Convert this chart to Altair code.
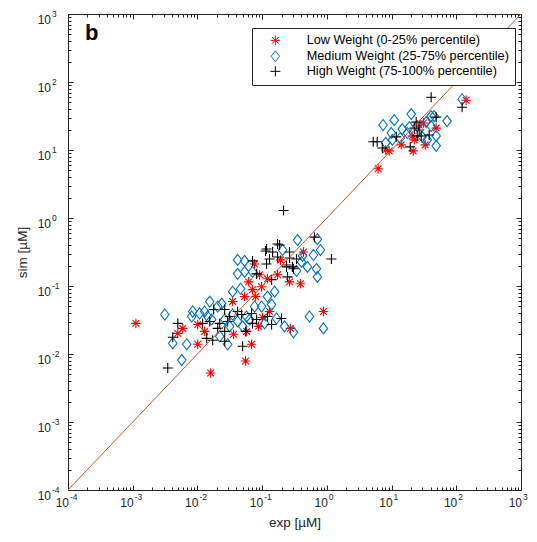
import altair as alt
import pandas as pd

# ---------------- data ----------------
series_names = ["Low Weight (0-25% percentile)",
                 "Medium Weight (25-75% percentile)",
                 "High Weight (75-100% percentile)"]

low_exp = [6.2, 8.1, 9.2, 14.1, 21.6, 22.4, 26.7, 31.0, 33.1, 48.9, 142, 20.8,
           0.00112, 0.00497, 0.00593, 0.0101, 0.0101, 0.0129, 0.0160, 0.0350, 0.0362, 0.0536,
           0.0792, 0.1014, 0.130, 0.0881, 0.0575, 0.0687, 0.0555, 0.0618, 0.0764, 0.0980,
           0.0711, 0.121, 0.173, 0.192, 0.265, 0.391, 0.435, 0.274, 0.885, 0.0912]
low_sim = [5.3, 10.0, 9.7, 11.9, 9.7, 14.1, 23.3, 25.0, 11.9, 21.0, 53.8, 16.1,
           0.0282, 0.0201, 0.0238, 0.0139, 0.0272, 0.0215, 0.00526, 0.0590, 0.0195, 0.0698,
           0.0698, 0.0345, 0.0422, 0.0255, 0.0215, 0.0139, 0.00787, 0.115, 0.211, 0.0976,
           0.0883, 0.128, 0.146, 0.242, 0.115, 0.108, 0.316, 0.0238, 0.0422, 0.146]

med_exp = [7.4, 11.0, 9.9, 14.6, 20.1, 17.5, 13.6, 8.1, 34.3, 24.9, 35.5, 40.9, 123, 72,
           45.5, 48.9, 48.9, 40.9, 18.8, 29.7, 10.3,
           0.00313, 0.00416, 0.00684, 0.00573, 0.00845, 0.00817, 0.0144, 0.0418, 0.0536, 0.0418,
           0.0536, 0.0711, 0.0350, 0.0465, 0.0237, 0.0293, 0.0350, 0.0575, 0.0764, 0.140,
           0.167, 0.222, 0.305, 0.352, 0.714, 0.796, 0.621, 0.420, 0.501, 0.690,
           0.714, 0.340, 0.406, 0.207, 0.538, 0.885, 0.0108, 0.0166, 0.0206, 0.0264,
           0.0418, 0.0499, 0.0640, 0.0980, 0.109, 0.0315, 0.0129, 0.0155, 0.0221, 0.121, 0.156]
med_sim = [23.3, 27.5, 17.8, 20.3, 33.7, 17.8, 15.0, 12.7, 25.7, 22.5, 14.1, 31.5, 55.7, 26.6,
           31.5, 16.1, 11.5, 22.5, 21.7, 15.6, 14.1,
           0.0381, 0.0144, 0.0139, 0.00813, 0.0422, 0.0356, 0.0356, 0.242, 0.234, 0.151,
           0.161, 0.161, 0.0826, 0.0912, 0.0552, 0.0139, 0.0381, 0.0356, 0.0499, 0.0533,
           0.0333, 0.0255, 0.0208, 0.473, 0.489, 0.338, 0.286, 0.277, 0.191, 0.179,
           0.136, 0.167, 0.226, 0.338, 0.0356, 0.0238, 0.0394, 0.0322, 0.0499, 0.0322,
           0.0301, 0.0255, 0.0322, 0.0499, 0.0282, 0.0255, 0.0422, 0.0590, 0.0182, 0.0698, 0.0826]

high_exp = [40.9, 123, 48.9, 5.2, 7.2, 11.8, 19.4, 24.0, 26.7, 24.9, 28.7, 38.1, 22.4, 6.0,
            0.00348, 0.00416, 0.00497, 0.0120, 0.0139, 0.0155, 0.0178, 0.0264, 0.0315, 0.0482,
            0.0687, 0.0711, 0.140, 0.121, 0.0221, 0.0206, 0.0264, 0.0172, 0.0264, 0.0499,
            0.0820, 0.0555, 0.199, 0.0711, 0.0820, 0.113, 0.117, 0.140, 0.214, 0.643,
            1.175, 0.173, 0.145, 0.130, 0.265, 0.340, 0.305, 0.247, 0.238, 0.117,
            0.186, 0.173, 0.238, 0.265, 0.294, 0.0418, 0.0293]
high_sim = [59.6, 42.6, 30.4, 13.2, 10.7, 15.6, 11.1, 25.7, 19.7, 16.1, 16.1, 16.6, 21.0, 13.2,
            0.00622, 0.0176, 0.0282, 0.0282, 0.0170, 0.0301, 0.0451, 0.0451, 0.0356, 0.0381,
            0.0394, 0.0282, 0.0272, 0.0356, 0.0282, 0.0238, 0.0215, 0.0159, 0.0154, 0.0130,
            0.0322, 0.0215, 0.0333, 0.234, 0.151, 0.327, 0.211, 0.124, 1.29, 0.523,
            0.250, 0.414, 0.316, 0.250, 0.316, 0.250, 0.179, 0.136, 0.191, 0.350,
            0.400, 0.267, 0.204, 0.258, 0.191, 0.0422, 0.0301]

diag_vals = [1e-4, 1e3]

decades = [1e-4, 1e-3, 1e-2, 1e-1, 1, 10, 100, 1000]
label_base = ["10"] * len(decades)
label_exp = ["-4", "-3", "-2", "-1", "0", "1", "2", "3"]
minor_ticks = [k * d for d in decades[:-1] for k in range(2, 10)]

# ---------------- styles ----------------
series_colors = ["#FF0000", "#0072BD", "#000000"]
series_shapes = [
    "M-0.95,0L0.95,0M0,-0.95L0,0.95M-0.67,-0.67L0.67,0.67M-0.67,0.67L0.67,-0.67",
    "M0,-1.1L0.85,0L0,1.1L-0.85,0Z",
    "M-1,0L1,0M0,-1L0,1",
]
W, H = 453, 476
FONT = "Liberation Sans"
AX = "#262626"

rows = []
for name, ex, sm in zip(series_names, [low_exp, med_exp, high_exp], [low_sim, med_sim, high_sim]):
    for a, b in zip(ex, sm):
        rows.append({"exp": a, "sim": b, "series": name})
df = pd.DataFrame(rows)
diag = pd.DataFrame({"x": diag_vals, "y": diag_vals})
anchor = pd.DataFrame({"x": [diag_vals[0]], "y": [diag_vals[0]]})
letter = pd.DataFrame({"t": ["b"]})
labels_df = pd.DataFrame({"v": decades, "base": label_base, "e": label_exp})

xs = alt.Scale(type="log", domain=[decades[0], decades[-1]], nice=False)
ys = alt.Scale(type="log", domain=[decades[0], decades[-1]], nice=False)

x_main = alt.Axis(orient="bottom", labels=False, ticks=False, domain=False, grid=False,
                  title="exp [µM]", titleFont=FONT, titleFontSize=13.5, titleFontWeight="normal",
                  titleColor=AX, titlePadding=25)
y_main = alt.Axis(orient="left", labels=False, ticks=False, domain=False, grid=False,
                  title="sim [µM]", titleFont=FONT, titleFontSize=13.5, titleFontWeight="normal",
                  titleColor=AX, titlePadding=39)

points = alt.Chart(df).mark_point(filled=False, strokeWidth=1.1, opacity=1, size=100).encode(
    x=alt.X("exp:Q", scale=xs, axis=x_main),
    y=alt.Y("sim:Q", scale=ys, axis=y_main),
    color=alt.Color("series:N", scale=alt.Scale(domain=series_names, range=series_colors), title=None),
    shape=alt.Shape("series:N", scale=alt.Scale(domain=series_names, range=series_shapes), title=None),
)

line = alt.Chart(diag).mark_line(color="#D95319", strokeWidth=1, clip=True).encode(
    x=alt.X("x:Q", scale=xs, axis=None),
    y=alt.Y("y:Q", scale=ys, axis=None),
)


def tick_axis(orient, offset, values, size):
    return alt.Axis(orient=orient, offset=offset, values=values, tickSize=size, labels=False,
                    domain=False, grid=False, title=None, tickColor=AX, tickWidth=1)


def tick_layer(xo, yo, values, size):
    return alt.Chart(anchor).mark_point(opacity=0).encode(
        x=alt.X("x:Q", scale=xs, axis=tick_axis(xo, -H, values, size)),
        y=alt.Y("y:Q", scale=ys, axis=tick_axis(yo, -W, values, size)),
    )


ticks = [
    tick_layer("top", "right", decades, 5),
    tick_layer("top", "right", minor_ticks, 3),
    tick_layer("bottom", "left", decades, 5),
    tick_layer("bottom", "left", minor_ticks, 3),
]

# tick labels as "10" plus raised exponent (MATLAB style)
xl_base = alt.Chart(labels_df).mark_text(font=FONT, fontSize=12, align="right", baseline="alphabetic",
                                         color=AX, dx=1).encode(
    x=alt.X("v:Q", scale=xs, axis=None), y=alt.value(H + 17), text="base:N")
xl_exp = alt.Chart(labels_df).mark_text(font=FONT, fontSize=8.5, align="left", baseline="alphabetic",
                                        color=AX, dx=2).encode(
    x=alt.X("v:Q", scale=xs, axis=None), y=alt.value(H + 9.5), text="e:N")
yl_base = alt.Chart(labels_df).mark_text(font=FONT, fontSize=12, align="right", baseline="alphabetic",
                                         color=AX, dy=10).encode(
    y=alt.Y("v:Q", scale=ys, axis=None), x=alt.value(-17), text="base:N")
yl_exp = alt.Chart(labels_df).mark_text(font=FONT, fontSize=8.5, align="left", baseline="alphabetic",
                                        color=AX, dy=2.5).encode(
    y=alt.Y("v:Q", scale=ys, axis=None), x=alt.value(-16), text="e:N")

panel = alt.Chart(letter).mark_text(font=FONT, fontSize=22, fontWeight="bold", align="left",
                                    baseline="alphabetic", color="#000000").encode(
    text="t:N", x=alt.value(17), y=alt.value(26))

chart = alt.layer(points, line, *ticks, xl_base, xl_exp, yl_base, yl_exp, panel).resolve_axis(
    x="independent", y="independent"
).properties(
    width=W, height=H,
    autosize=alt.AutoSizeParams(type="none"),
    padding={"left": 60, "top": 6, "right": 8, "bottom": 44},
).configure_view(
    stroke=AX, strokeWidth=1
).configure_legend(
    orient="none", legendX=184, legendY=14, fillColor="white", strokeColor=AX,
    padding=6, symbolOffset=11, labelOffset=25, rowPadding=0, symbolSize=100,
    symbolStrokeWidth=1, labelFont=FONT, labelFontSize=12.7, labelColor="#000000",
    cornerRadius=0, labelLimit=400,
)

chart.save("out.html", embed_options={"renderer": "svg", "actions": False})
